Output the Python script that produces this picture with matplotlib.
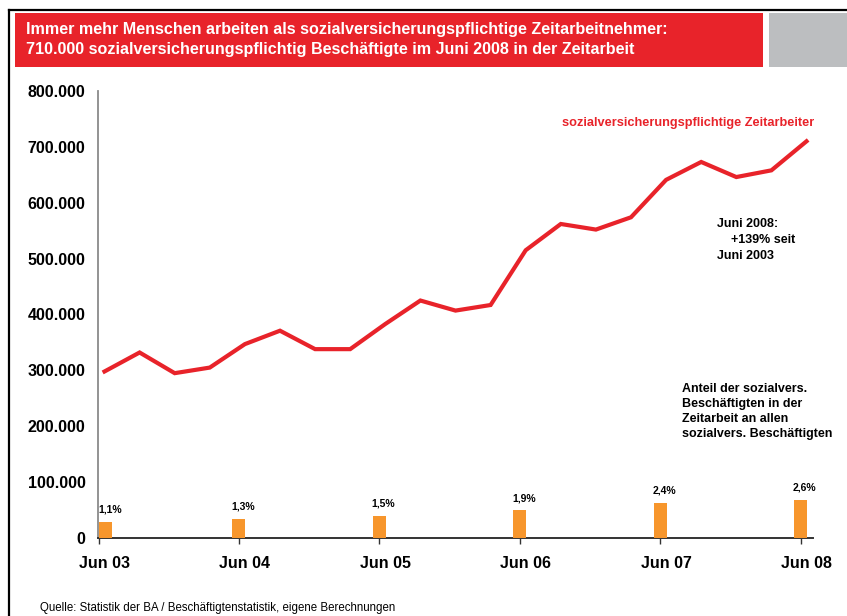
import numpy as np
import matplotlib
matplotlib.use("Agg")
import matplotlib.pyplot as plt
from matplotlib.patches import Rectangle
from matplotlib.lines import Line2D
from matplotlib.ticker import FuncFormatter

# quarterly values, Jun 03 ... Jun 08
employees = [298000, 332000, 295000, 305000, 347000, 371000, 338000, 338000,
             383000, 425000, 407000, 417000, 515000, 562000, 552000, 574000,
             641000, 673000, 646000, 658000, 710000]
year_labels = ["Jun 03", "Jun 04", "Jun 05", "Jun 06", "Jun 07", "Jun 08"]
share = [1.1, 1.3, 1.5, 1.9, 2.4, 2.6]
share_labels = ["1,1%", "1,3%", "1,5%", "1,9%", "2,4%", "2,6%"]

title = ("Immer mehr Menschen arbeiten als sozialversicherungspflichtige Zeitarbeitnehmer:\n"
         "710.000 sozialversicherungspflichtig Beschäftigte im Juni 2008 in der Zeitarbeit")
source = "Quelle: Statistik der BA / Beschäftigtenstatistik, eigene Berechnungen"

RED = "#E8232A"
ORANGE = "#F7962C"
GREY = "#BCBEC0"

plt.rcParams["font.family"] = ["Liberation Sans", "DejaVu Sans"]

W, H = 847, 616
fig = plt.figure(figsize=(W / 100, H / 100), dpi=100)

# frame + header boxes
fig.add_artist(Line2D([9 / W, 9 / W], [0, 1 - 10 / H], color="black", lw=1.6))
fig.add_artist(Line2D([9 / W, 1], [1 - 10 / H, 1 - 10 / H], color="black", lw=1.6))
fig.add_artist(Rectangle((15 / W, 1 - 67 / H), 748 / W, 54 / H, color=RED, lw=0))
fig.add_artist(Rectangle((769 / W, 1 - 67 / H), 80 / W, 54 / H, color=GREY, lw=0))
fig.text(26 / W, 1 - 39.5 / H, title, color="white", fontsize=11.6, fontweight="bold",
         va="center", ha="left", linespacing=1.4)
fig.text(40 / W, 1 - 608 / H, source, fontsize=8.3, va="center", ha="left")

rect = [98 / W, 78 / H, 715 / W, 447 / H]
xlim = (-0.185, 20.185)
tick_off = -0.17

ax = fig.add_axes(rect)
x = np.arange(len(employees))
ax.plot(x, employees, color=RED, lw=3, solid_joinstyle="miter", zorder=3)
ax.set_xlim(*xlim)
ax.set_ylim(0, 800000)
ax.set_yticks(np.arange(0, 800001, 100000))
ax.yaxis.set_major_formatter(FuncFormatter(lambda v, p: f"{int(v):,}".replace(",", ".")))
ax.tick_params(axis="y", length=0, pad=9, labelsize=11.5)
for t in ax.get_yticklabels():
    t.set_fontweight("bold")

year_pos = x[::4]
ax.set_xticks(year_pos)
ax.set_xticklabels(year_labels, fontsize=11.5, fontweight="bold")
ax.tick_params(axis="x", which="major", length=0, pad=13)
ax.set_xticks(year_pos + tick_off, minor=True)
ax.tick_params(axis="x", which="minor", length=4, width=1, color="#333333", direction="out")

for s in ["top", "right"]:
    ax.spines[s].set_visible(False)
ax.spines["left"].set_color("#8a8a8a")
ax.spines["left"].set_linewidth(1.3)
ax.spines["bottom"].set_color("#333333")
ax.spines["bottom"].set_linewidth(1.4)

ax.text(20.22, 743500, "sozialversicherungspflichtige Zeitarbeiter", color=RED,
        fontsize=9.2, fontweight="bold", ha="right", va="center")
ax.text(17.45, 534000, "Juni 2008:\n    +139% seit\nJuni 2003", fontsize=9,
        fontweight="bold", ha="left", va="center", linespacing=1.45)
ax.text(16.45, 226000, "Anteil der sozialvers.\nBeschäftigten in der\nZeitarbeit an allen\nsozialvers. Beschäftigten",
        fontsize=9, fontweight="bold", ha="left", va="center", linespacing=1.32)

# share bars on their own hidden scale
ax2 = fig.add_axes(rect)
ax2.patch.set_visible(False)
ax2.axis("off")
ax2.set_xlim(*xlim)
ax2.set_ylim(0, 30.4)
bw = 0.37
bar_x = np.maximum(year_pos + tick_off, xlim[0] + bw / 2 + 0.03)
ax2.bar(bar_x, share, width=bw, color=ORANGE, zorder=2)
for bx, h, lab in zip(bar_x, share, share_labels):
    ax2.annotate(lab, (bx, h), xytext=(3, 5), textcoords="offset points",
                 ha="center", va="bottom", fontsize=7.5, fontweight="bold")

fig.savefig("out.png", dpi=100)
